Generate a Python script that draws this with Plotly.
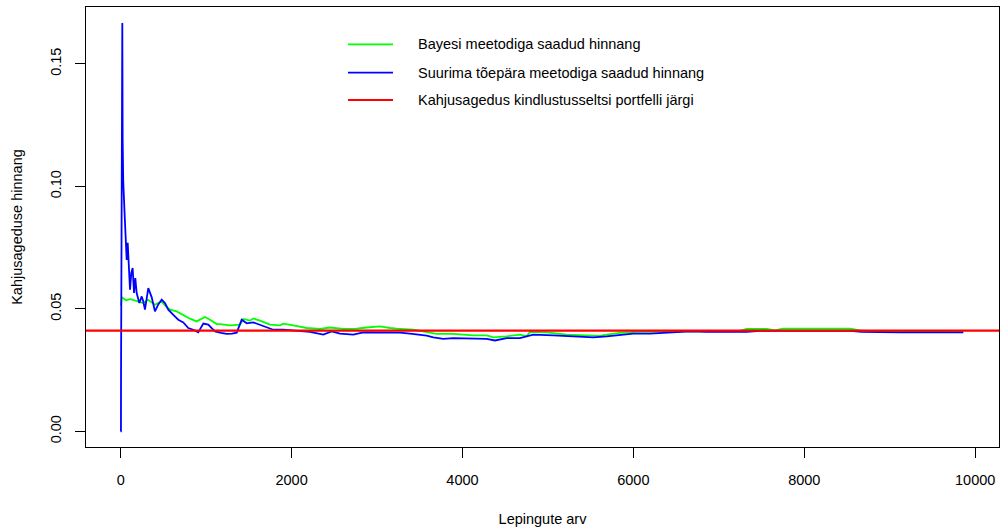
import plotly.graph_objects as go

# ---- data ----
blue_x = [1, 3, 4, 19, 23, 30, 47, 58, 70, 82, 97, 109, 124, 140, 156, 171, 187, 218, 246, 264,
          284, 323, 363, 401, 440, 480, 518, 557, 616, 674, 733, 791, 850, 908, 967, 1025, 1068, 1104, 1174, 1241,
          1303, 1358, 1416, 1475, 1552, 1630, 1669, 1747, 1786, 1903, 2060, 2215, 2371, 2469, 2566, 2722, 2839, 2996, 3152, 3269,
          3386, 3581, 3659, 3776, 3892, 4127, 4283, 4380, 4517, 4673, 4751, 4829, 5063, 5337, 5531, 5688, 5805, 5999, 6195, 6546,
          6663, 6858, 7326, 7482, 7950, 8535, 8672, 9120, 9861]
blue_y = [0.0, 0.0, 0.0227, 0.1667, 0.119, 0.102, 0.0878, 0.0769, 0.070, 0.077,
          0.0673, 0.0578, 0.0647, 0.0667, 0.0565, 0.0626, 0.0565, 0.0524, 0.0551, 0.0531,
          0.0497, 0.0585, 0.0547, 0.0490, 0.0518, 0.0538, 0.0524, 0.0497, 0.0476, 0.0456,
          0.0445, 0.0422, 0.0415, 0.0404, 0.0440, 0.0436, 0.0420, 0.0408, 0.0402, 0.0398,
          0.0399, 0.0403, 0.0456, 0.0441, 0.0445, 0.0435, 0.0431, 0.0418, 0.0415, 0.0415,
          0.0412, 0.0406, 0.0395, 0.0408, 0.0399, 0.0395, 0.0404, 0.0403, 0.0404, 0.0403,
          0.0399, 0.0391, 0.0384, 0.0378, 0.0381, 0.0381, 0.0378, 0.0371, 0.0381, 0.0381,
          0.0388, 0.0395, 0.0392, 0.0388, 0.0384, 0.0388, 0.0392, 0.0399, 0.0399, 0.0406,
          0.0408, 0.0406, 0.0406, 0.0410, 0.0411, 0.0410, 0.0406, 0.0404, 0.0404]

green_x = [1, 15, 62, 109, 144, 202, 261, 319, 401, 440,
           480, 530, 577, 655, 729, 811, 889, 928, 987, 1045,
           1123, 1162, 1279, 1396, 1435, 1513, 1552, 1630, 1747, 1864,
           1903, 2020, 2177, 2332, 2449, 2605, 2762, 2879, 3035, 3152,
           3230, 3424, 3581, 3698, 3892, 4127, 4283, 4361, 4517, 4673,
           4751, 4790, 4985, 5220, 5454, 5609, 5688, 5843, 6039, 6390,
           6624, 7248, 7326, 7560, 7657, 7751, 8535, 8652, 8886, 9471, 9861]
green_y = [0.0513, 0.0547, 0.0535, 0.0540, 0.0537, 0.0530, 0.0524, 0.0537, 0.0517, 0.0524,
           0.0530, 0.0510, 0.0497, 0.0490, 0.0476, 0.0460, 0.0449, 0.0456, 0.0467, 0.0456,
           0.0438, 0.0438, 0.0433, 0.0436, 0.0459, 0.0452, 0.0461, 0.0452, 0.0436, 0.0433,
           0.0440, 0.0433, 0.0422, 0.0418, 0.0424, 0.0418, 0.0419, 0.0424, 0.0429, 0.0422,
           0.0419, 0.0415, 0.0404, 0.0398, 0.0398, 0.0392, 0.0392, 0.0384, 0.0388, 0.0395,
           0.0388, 0.0406, 0.0404, 0.0395, 0.0392, 0.0390, 0.0395, 0.0402, 0.0406, 0.0406,
           0.0408, 0.0410, 0.0418, 0.0418, 0.0412, 0.0419, 0.0419, 0.0412, 0.0406, 0.0406, 0.0405]

portfolio_rate = 0.0411

x_ticks = [0, 2000, 4000, 6000, 8000, 10000]
y_ticks = [0.0, 0.05, 0.10, 0.15]
y_tick_labels = ["0.00", "0.05", "0.10", "0.15"]

series_names = ["Bayesi meetodiga saadud hinnang",
                "Suurima tõepära meetodiga saadud hinnang",
                "Kahjusagedus kindlustusseltsi portfelli järgi"]
series_colors = ["#00FF00", "#0000FF", "#FF0000"]

x_title = "Lepingute arv"
y_title = "Kahjusageduse hinnang"

# ---- layout constants ----
W, H = 1001, 531
ML, MR, MT, MB = 86, 2, 7, 84
FONT = "Liberation Sans, Arial, sans-serif"
FS = 14.5

fig = go.Figure()
fig.add_trace(go.Scatter(x=green_x, y=green_y, mode="lines", name=series_names[0],
                         line=dict(color=series_colors[0], width=1.8), showlegend=False))
fig.add_trace(go.Scatter(x=blue_x, y=blue_y, mode="lines", name=series_names[1],
                         line=dict(color=series_colors[1], width=1.8), showlegend=False))
fig.add_hline(y=portfolio_rate, line=dict(color=series_colors[2], width=2.3))

# manual legend (R style, no box)
pw = W - ML - MR
ph = H - MT - MB
def px_x(p):
    return (p - ML) / pw
def px_y(p):
    return (H - MB - p) / ph

leg_rows = [44.3, 72.7, 100.0]
for name, col, ry in zip(series_names, series_colors, leg_rows):
    fig.add_shape(type="line", xref="paper", yref="paper",
                  x0=px_x(348), x1=px_x(393), y0=px_y(ry), y1=px_y(ry),
                  line=dict(color=col, width=1.8))
    fig.add_annotation(text=name, xref="paper", yref="paper", x=px_x(416), y=px_y(ry),
                       xanchor="left", yanchor="middle", showarrow=False,
                       font=dict(family=FONT, size=FS, color="black"))

fig.update_layout(
    width=W, height=H,
    margin=dict(l=ML, r=MR, t=MT, b=MB, pad=0),
    paper_bgcolor="white", plot_bgcolor="white",
    font=dict(family=FONT, size=FS, color="black"),
    xaxis=dict(range=[-406, 10279], tickvals=x_ticks, ticktext=[str(v) for v in x_ticks],
               showgrid=False, zeroline=False, showline=True, mirror=True,
               linecolor="black", linewidth=1, ticks="outside", ticklen=10, tickwidth=1,
               tickcolor="black", ticklabelstandoff=10,
               title=dict(text=x_title, standoff=26, font=dict(size=FS))),
    yaxis=dict(range=[-0.00637, 0.17322], tickvals=y_ticks, ticktext=y_tick_labels,
               tickangle=-90, showgrid=False, zeroline=False, showline=True, mirror=True,
               linecolor="black", linewidth=1, ticks="outside", ticklen=10, tickwidth=1,
               tickcolor="black", ticklabelstandoff=8,
               title=dict(text=y_title, standoff=22, font=dict(size=FS))),
)

fig.write_html("out.html")
